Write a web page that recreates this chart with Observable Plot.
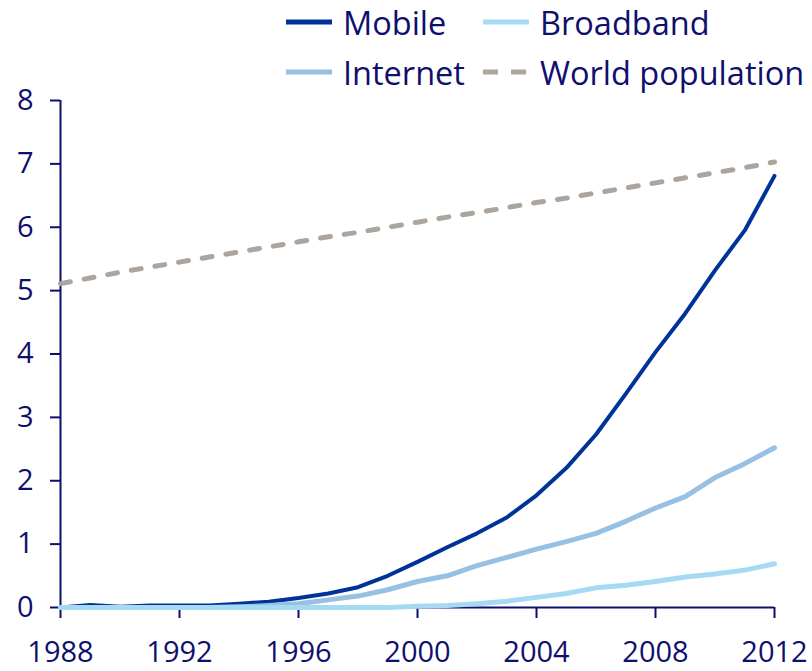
<!DOCTYPE html>
<html>
<head>
<meta charset="utf-8">
<script src="https://cdn.jsdelivr.net/npm/d3@7"></script>
<script src="https://cdn.jsdelivr.net/npm/@observablehq/plot@0.6"></script>
<style>
  html, body { margin: 0; padding: 0; background: #fff; }
  body { width: 812px; height: 671px; overflow: hidden; font-family: "Open Sans", "Noto Sans", sans-serif; color: #0f0f6e; }
  #legend { position: relative; width: 812px; height: 90px; }
  .item { position: absolute; display: flex; align-items: center; height: 48px; font-size: 32.5px; white-space: nowrap; }
  .item svg { margin-right: 11px; }
</style>
</head>
<body>
<div id="legend"></div>
<div id="chart"></div>
<script>
const years = [1988,1989,1990,1991,1992,1993,1994,1995,1996,1997,1998,1999,2000,2001,2002,2003,2004,2005,2006,2007,2008,2009,2010,2011,2012];
const mobile = [0.00,0.04,0.01,0.03,0.03,0.03,0.06,0.09,0.15,0.22,0.32,0.50,0.72,0.95,1.17,1.42,1.77,2.20,2.73,3.37,4.03,4.64,5.32,5.95,6.81];
const internet = [0.00,0.00,0.00,0.00,0.00,0.00,0.01,0.03,0.06,0.12,0.18,0.28,0.41,0.50,0.66,0.79,0.92,1.04,1.17,1.36,1.57,1.75,2.05,2.27,2.52];
const broadband = [0.00,0.00,0.00,0.00,0.00,0.00,0.00,0.00,0.00,0.00,0.00,0.00,0.02,0.03,0.06,0.10,0.16,0.22,0.31,0.35,0.41,0.48,0.53,0.59,0.69];
const population = [5.11,5.20,5.29,5.37,5.45,5.53,5.61,5.69,5.77,5.85,5.92,6.00,6.08,6.16,6.23,6.31,6.39,6.46,6.54,6.62,6.70,6.78,6.86,6.94,7.03];
const xTicks = [1988,1992,1996,2000,2004,2008,2012];
const yTicks = [0,1,2,3,4,5,6,7,8];
const seriesNames = ["Mobile","Broadband","Internet","World population"];

const navy = "#0f0f6e";
const colors = {"Mobile":"#003399","Broadband":"#a6daf3","Internet":"#98c0e2","World population":"#aba59d"};

const toRows = (vals) => years.map((y, i) => ({year: y, value: vals[i]}));

// Legend
const legend = document.getElementById("legend");
const legendPos = [
  {name: seriesNames[0], left: 286, top: -2},
  {name: seriesNames[1], left: 483, top: -2},
  {name: seriesNames[2], left: 286, top: 48},
  {name: seriesNames[3], left: 483, top: 48}
];
legendPos.forEach(p => {
  const div = document.createElement("div");
  div.className = "item";
  div.style.left = p.left + "px";
  div.style.top = p.top + "px";
  const dash = p.name === "World population" ? ' stroke-dasharray="15,13"' : '';
  div.innerHTML = `<svg width="46" height="10"><line x1="0" x2="46" y1="5" y2="5" stroke="${colors[p.name]}" stroke-width="5"${dash}/></svg><span>${p.name}</span>`;
  legend.appendChild(div);
});

const chart = Plot.plot({
  width: 812,
  height: 581,
  marginTop: 10,
  marginBottom: 64,
  marginLeft: 60,
  marginRight: 38,
  style: {fontFamily: '"Open Sans", "Noto Sans", sans-serif', fontSize: "29px", color: navy, background: "#fff", overflow: "visible"},
  x: {domain: [1988, 2012], label: null},
  y: {domain: [0, 8], label: null},
  marks: [
    Plot.axisX({ticks: xTicks, tickSize: 11, tickPadding: 23, tickFormat: d => String(d), stroke: navy, strokeWidth: 2, fill: navy, label: null}),
    Plot.axisY({ticks: yTicks, tickSize: 10, tickPadding: 17, stroke: navy, strokeWidth: 2, fill: navy, label: null}),
    Plot.ruleX([1988], {stroke: navy, strokeWidth: 2}),
    Plot.ruleY([0], {stroke: navy, strokeWidth: 2}),
    Plot.line(toRows(population), {x: "year", y: "value", stroke: colors["World population"], strokeWidth: 5, strokeDasharray: "10,14"}),
    Plot.line(toRows(mobile), {x: "year", y: "value", stroke: colors["Mobile"], strokeWidth: 4, strokeLinejoin: "round"}),
    Plot.line(toRows(internet), {x: "year", y: "value", stroke: colors["Internet"], strokeWidth: 5, strokeLinejoin: "round", strokeLinecap: "round"}),
    Plot.line(toRows(broadband), {x: "year", y: "value", stroke: colors["Broadband"], strokeWidth: 5, strokeLinejoin: "round", strokeLinecap: "round"})
  ]
});
document.getElementById("chart").appendChild(chart);
</script>
</body>
</html>
